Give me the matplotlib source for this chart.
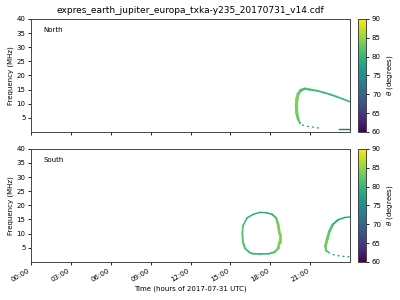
import numpy as np
import matplotlib
matplotlib.use("Agg")
import matplotlib.pyplot as plt
from matplotlib.collections import LineCollection
from matplotlib import cm, colors

# ---- data (hours of day, frequency MHz, theta degrees) ----
north_main_t = [20.25, 20.1, 20.0, 19.97, 20.0, 20.1, 20.3, 20.6, 21.0, 21.5, 22.0, 22.5, 23.0, 23.5, 24.0]
north_main_f = [3.0, 4.5, 6.5, 9.0, 11.5, 13.5, 14.8, 15.3, 15.0, 14.6, 14.0, 13.3, 12.5, 11.6, 10.7]
north_main_th = [82, 83, 84, 84, 84, 83, 81, 81, 80.5, 80.5, 80, 80, 80, 80, 80]
north_main_lw = [1.4, 2.0, 2.3, 2.3, 2.3, 2.0, 1.8, 1.6, 1.4, 1.3, 1.3, 1.3, 1.2, 1.2]

north_low_t = [20.4, 20.6, 20.9, 21.1, 21.5, 21.7]
north_low_f = [2.5, 2.2, 1.9, 1.8, 1.5, 1.4]
north_low_th = 75
north_tail_t = [23.2, 24.0]
north_tail_f = [0.9, 0.9]
north_tail_th = 71

south_loop1_t = [16.45, 16.1, 15.95, 15.9, 15.95, 16.25, 16.7, 17.2, 17.7, 18.15, 18.45, 18.6, 18.7, 18.7, 18.6, 18.3, 17.9, 17.2, 16.7, 16.45]
south_loop1_f = [3.3, 4.8, 7.0, 10.0, 12.8, 15.5, 16.8, 17.5, 17.4, 16.8, 15.5, 13.0, 10.0, 7.0, 4.8, 3.4, 2.9, 2.8, 2.9, 3.3]
south_loop1_th = [80, 81, 82, 82, 80, 78, 77.5, 77.5, 78, 80, 83, 84, 84, 84, 83, 81, 80, 79.5, 79.5, 80]
south_loop1_lw = [1.2, 1.4, 1.4, 1.3, 1.1, 1.0, 1.0, 1.0, 1.1, 1.4, 1.8, 2.0, 2.0, 2.0, 1.6, 1.3, 1.2, 1.2, 1.2]

south_loop2_t = [24.0, 23.6, 23.1, 22.7, 22.45, 22.28, 22.15, 22.2, 22.45]
south_loop2_f = [15.9, 15.7, 14.9, 13.2, 10.8, 8.0, 5.5, 4.0, 3.2]
south_loop2_th = [77.5, 78, 79, 81, 82.5, 83, 83, 81, 78]
south_loop2_lw = [1.0, 1.1, 1.4, 1.8, 2.0, 2.0, 1.6, 1.2]

south_low_t = [22.7, 22.9, 23.1, 23.3, 23.7, 23.95]
south_low_f = [2.6, 2.4, 2.2, 2.1, 1.85, 1.8]
south_low_th = 74

time_ticks = [0, 3, 6, 9, 12, 15, 18, 21]
time_labels = ["00:00", "03:00", "06:00", "09:00", "12:00", "15:00", "18:00", "21:00"]
freq_ticks = [5, 10, 15, 20, 25, 30, 35, 40]
theta_ticks = [60, 65, 70, 75, 80, 85, 90]

title = "expres_earth_jupiter_europa_txka-y235_20170731_v14.cdf"

cmap = plt.get_cmap("viridis")
norm = colors.Normalize(vmin=60, vmax=90)

fig = plt.figure(figsize=(4, 3), dpi=100)
ax1 = fig.add_axes([0.0775, 0.56, 0.7975, 0.377])
ax2 = fig.add_axes([0.0775, 0.127, 0.7975, 0.377])
cax1 = fig.add_axes([0.895, 0.56, 0.021, 0.377])
cax2 = fig.add_axes([0.895, 0.127, 0.021, 0.377])


def add_curve(ax, t, f, th, lw):
    pts = np.column_stack([t, f])
    segs = np.stack([pts[:-1], pts[1:]], axis=1)
    lc = LineCollection(segs, cmap=cmap, norm=norm, linewidths=lw, capstyle="round")
    lc.set_array(np.asarray(th[:-1], dtype=float))
    ax.add_collection(lc)


def add_dashes(ax, t, f, th, lw=0.9, dashes=(1.5, 2.5)):
    ax.plot(t, f, color=cmap(norm(th)), lw=lw, dashes=dashes)


add_curve(ax1, north_main_t, north_main_f, north_main_th, north_main_lw)
add_dashes(ax1, north_low_t, north_low_f, north_low_th)
ax1.plot(north_tail_t, north_tail_f, color=cmap(norm(north_tail_th)), lw=1.0)

add_curve(ax2, south_loop1_t, south_loop1_f, south_loop1_th, south_loop1_lw)
add_curve(ax2, south_loop2_t, south_loop2_f, south_loop2_th, south_loop2_lw)
add_dashes(ax2, south_low_t, south_low_f, south_low_th)

for ax, name in [(ax1, "North"), (ax2, "South")]:
    ax.set_xlim(0, 24)
    ax.set_ylim(0, 40)
    ax.set_yticks(freq_ticks)
    ax.set_xticks(time_ticks)
    ax.tick_params(labelsize=5, length=2.5, width=0.6, pad=1.5)
    ax.set_ylabel("Frequency (MHz)", fontsize=5, labelpad=2)
    ax.text(0.038, 0.9, name, transform=ax.transAxes, fontsize=5, va="center", ha="left")
    for s in ax.spines.values():
        s.set_linewidth(0.7)
        s.set_color("#444444")

ax1.set_xticklabels([])
ax2.set_xticklabels(time_labels, rotation=30, ha="right", fontsize=5)
ax2.set_xlabel("Time (hours of 2017-07-31 UTC)", fontsize=5, labelpad=2)
ax1.set_title(title, fontsize=6.5, pad=4)

for cax in (cax1, cax2):
    sm = cm.ScalarMappable(norm=norm, cmap=cmap)
    cb = fig.colorbar(sm, cax=cax, ticks=theta_ticks)
    cb.ax.tick_params(labelsize=5, length=2.5, width=0.6, pad=1.5)
    cb.set_label(r"$\theta$ (degrees)", fontsize=5, labelpad=3)
    cb.outline.set_linewidth(0.7)
    cb.outline.set_edgecolor("#444444")

fig.savefig("out.png", dpi=100)
